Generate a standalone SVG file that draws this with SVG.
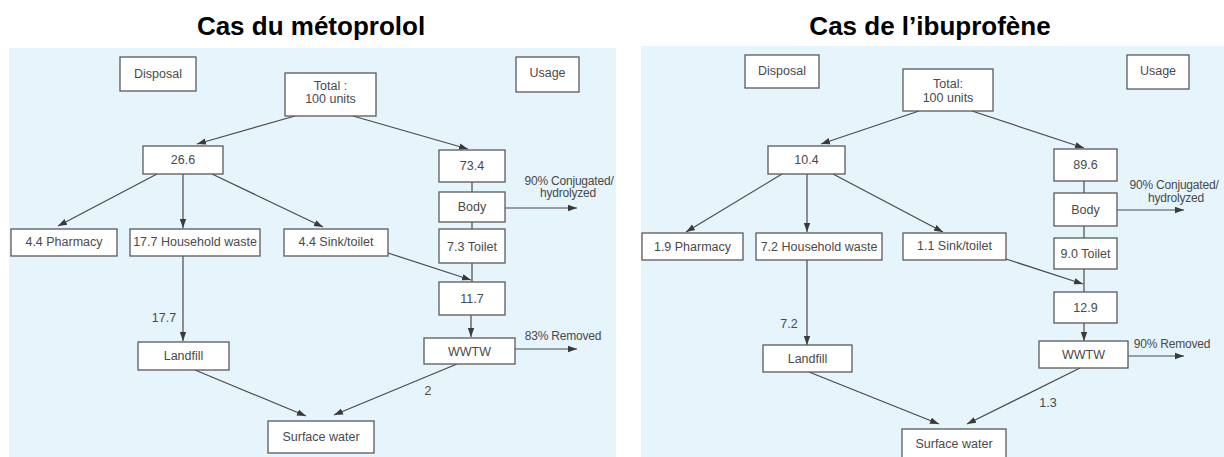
<svg xmlns="http://www.w3.org/2000/svg" width="1224" height="457" viewBox="0 0 1224 457">
<style>
.title{font-family:"Liberation Sans",Arial,sans-serif;font-weight:bold;font-size:26px;fill:#000;text-anchor:middle}
.bg{fill:#e6f4fc}
.box{fill:#fff;stroke:#5a5a5a;stroke-width:1.3}
.t{font-family:"Liberation Sans",Arial,sans-serif;font-size:12.5px;fill:#4a4a4a;text-anchor:middle}
.s{font-size:12px;letter-spacing:-0.2px}
.c{stroke:#4a4a4a;stroke-width:1.2;fill:none}
.a{marker-end:url(#ah)}
</style>
<defs>
<marker id="ah" markerUnits="userSpaceOnUse" markerWidth="10" markerHeight="8" refX="9" refY="4" orient="auto">
<path d="M0,0.8 L9,4 L0,7.2 z" fill="#3a3a3a"/>
</marker>
</defs>
<rect class="bg" x="9" y="48" width="607" height="409"/>
<rect class="bg" x="641" y="46" width="583" height="411"/>
<text class="title" x="311" y="35">Cas du métoprolol</text>
<text class="title" x="930" y="35">Cas de l’ibuprofène</text>

<g id="connectors-left">
<line class="c a" x1="295" y1="116" x2="197" y2="144"/>
<line class="c a" x1="353" y1="116" x2="468" y2="149"/>
<line class="c a" x1="157" y1="174" x2="58" y2="226"/>
<line class="c a" x1="183" y1="174" x2="183" y2="228"/>
<line class="c a" x1="212" y1="174" x2="323" y2="227"/>
<line class="c" x1="472" y1="182" x2="472" y2="192"/>
<line class="c" x1="472" y1="222" x2="472" y2="229"/>
<line class="c" x1="472" y1="263" x2="472" y2="282"/>
<line class="c a" x1="505" y1="208" x2="577" y2="208"/>
<line class="c a" x1="388" y1="253" x2="471" y2="280"/>
<line class="c a" x1="183" y1="256" x2="183" y2="341"/>
<line class="c a" x1="471" y1="315" x2="471" y2="337"/>
<line class="c a" x1="515" y1="349" x2="577" y2="349"/>
<line class="c a" x1="195" y1="370" x2="306" y2="416"/>
<line class="c a" x1="457" y1="364" x2="334" y2="415"/>
<text class="t" x="164" y="322">17.7</text>
<text class="t" x="428" y="395">2</text>
<text class="t s" x="569" y="185">90% Conjugated/</text>
<text class="t s" x="568" y="197">hydrolyzed</text>
<text class="t s" x="563" y="340">83% Removed</text>
</g>

<g id="n-disposal-l"><rect class="box" x="120" y="57" width="76" height="34"/><text class="t" x="158" y="78">Disposal</text></g>
<g id="n-total-l"><rect class="box" x="285" y="73" width="91" height="43"/><text class="t" x="330.5" y="90">Total :</text><text class="t" x="330.5" y="103">100 units</text></g>
<g id="n-usage-l"><rect class="box" x="516" y="57" width="63" height="35"/><text class="t" x="547.5" y="77">Usage</text></g>
<g id="n-266"><rect class="box" x="143" y="146" width="80" height="28"/><text class="t" x="183" y="164">26.6</text></g>
<g id="n-734"><rect class="box" x="439" y="150" width="66" height="32"/><text class="t" x="472" y="170">73.4</text></g>
<g id="n-body-l"><rect class="box" x="439" y="192" width="66" height="30"/><text class="t" x="472" y="211">Body</text></g>
<g id="n-toilet-l"><rect class="box" x="439" y="229" width="66" height="34"/><text class="t" x="472" y="251">7.3 Toilet</text></g>
<g id="n-117"><rect class="box" x="439" y="282" width="66" height="33"/><text class="t" x="472" y="303">11.7</text></g>
<g id="n-pharm-l"><rect class="box" x="11" y="229" width="106" height="27"/><text class="t" x="64" y="246">4.4 Pharmacy</text></g>
<g id="n-house-l"><rect class="box" x="130" y="229" width="130" height="27"/><text class="t" x="195" y="246">17.7 Household waste</text></g>
<g id="n-sink-l"><rect class="box" x="284" y="229" width="104" height="27"/><text class="t" x="336" y="246">4.4 Sink/toilet</text></g>
<g id="n-landfill-l"><rect class="box" x="138" y="342" width="91" height="28"/><text class="t" x="183.5" y="360">Landfill</text></g>
<g id="n-wwtw-l"><rect class="box" x="424" y="338" width="91" height="26"/><text class="t" x="469.5" y="356">WWTW</text></g>
<g id="n-surface-l"><rect class="box" x="268" y="421" width="106" height="32"/><text class="t" x="321" y="441">Surface water</text></g>

<g id="connectors-right">
<line class="c a" x1="919" y1="111" x2="821" y2="144"/>
<line class="c a" x1="972" y1="111" x2="1084" y2="148"/>
<line class="c a" x1="782" y1="174" x2="686" y2="232"/>
<line class="c a" x1="807" y1="174" x2="807" y2="232"/>
<line class="c a" x1="833" y1="174" x2="943" y2="232"/>
<line class="c" x1="1084" y1="181" x2="1084" y2="193"/>
<line class="c" x1="1084" y1="226" x2="1084" y2="238"/>
<line class="c" x1="1084" y1="269" x2="1084" y2="292"/>
<line class="c a" x1="1117" y1="210" x2="1184" y2="210"/>
<line class="c a" x1="1006" y1="259" x2="1083" y2="284"/>
<line class="c a" x1="807" y1="260" x2="807" y2="345"/>
<line class="c a" x1="1084" y1="323" x2="1084" y2="341"/>
<line class="c a" x1="1128" y1="356" x2="1184" y2="356"/>
<line class="c a" x1="809" y1="372" x2="939" y2="424"/>
<line class="c a" x1="1080" y1="368" x2="967" y2="424"/>
<text class="t" x="789" y="328">7.2</text>
<text class="t" x="1048" y="407">1.3</text>
<text class="t s" x="1174" y="189">90% Conjugated/</text>
<text class="t s" x="1176" y="202">hydrolyzed</text>
<text class="t s" x="1172" y="348">90% Removed</text>
</g>

<g id="n-disposal-r"><rect class="box" x="745" y="55" width="74" height="33"/><text class="t" x="782" y="75">Disposal</text></g>
<g id="n-total-r"><rect class="box" x="903" y="69" width="90" height="42"/><text class="t" x="948" y="88">Total:</text><text class="t" x="948" y="102">100 units</text></g>
<g id="n-usage-r"><rect class="box" x="1127" y="55" width="62" height="34"/><text class="t" x="1158" y="75">Usage</text></g>
<g id="n-104"><rect class="box" x="768" y="146" width="77" height="28"/><text class="t" x="806.5" y="164">10.4</text></g>
<g id="n-896"><rect class="box" x="1054" y="149" width="63" height="32"/><text class="t" x="1085.5" y="169">89.6</text></g>
<g id="n-body-r"><rect class="box" x="1054" y="193" width="63" height="33"/><text class="t" x="1085.5" y="214">Body</text></g>
<g id="n-toilet-r"><rect class="box" x="1054" y="238" width="63" height="31"/><text class="t" x="1085.5" y="258">9.0 Toilet</text></g>
<g id="n-129"><rect class="box" x="1054" y="292" width="63" height="31"/><text class="t" x="1085.5" y="312">12.9</text></g>
<g id="n-pharm-r"><rect class="box" x="642" y="233" width="101" height="27"/><text class="t" x="692.5" y="251">1.9 Pharmacy</text></g>
<g id="n-house-r"><rect class="box" x="756" y="233" width="126" height="27"/><text class="t" x="819" y="251">7.2 Household waste</text></g>
<g id="n-sink-r"><rect class="box" x="903" y="233" width="103" height="27"/><text class="t" x="954.5" y="250">1.1 Sink/toilet</text></g>
<g id="n-landfill-r"><rect class="box" x="763" y="345" width="89" height="27"/><text class="t" x="807.5" y="363">Landfill</text></g>
<g id="n-wwtw-r"><rect class="box" x="1039" y="341" width="89" height="27"/><text class="t" x="1083.5" y="359">WWTW</text></g>
<g id="n-surface-r"><rect class="box" x="902" y="429" width="104" height="34"/><text class="t" x="954" y="448">Surface water</text></g>
</svg>
